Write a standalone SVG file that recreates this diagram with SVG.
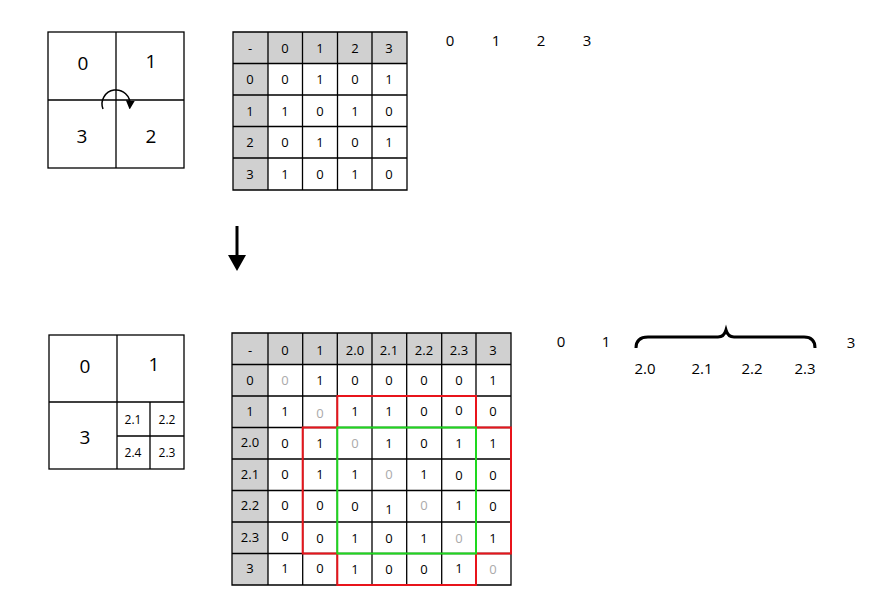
<svg xmlns="http://www.w3.org/2000/svg" width="877" height="613" viewBox="0 0 877 613">
<style>
text{font-family:"Open Sans","Liberation Sans",sans-serif;fill:#000;text-anchor:middle;dominant-baseline:central}
.t{font-size:13px}.b{font-size:19px}.s{font-size:12px}.g{fill:#aaa}
.l{stroke:#000;stroke-width:1.3;fill:none}
.h{fill:#d0d0d0}
</style>
<defs><marker id="ah" viewBox="0 0 10 10" refX="5" refY="5" markerWidth="6" markerHeight="6" orient="auto"><path d="M0,0L10,5L0,10z"/></marker></defs>
<rect width="877" height="613" fill="#fff"/>
<g id="square1">
<rect x="48" y="32" width="136" height="136" class="l"/>
<path d="M116,32V168M48,100H184" class="l"/>
<text x="83" y="63" class="b">0</text><text x="151" y="61" class="b">1</text>
<text x="82" y="136" class="b">3</text><text x="151" y="136" class="b">2</text>
</g>
<g id="connectors">
<path d="M103,109A14,14 0 1 1 130,105" fill="none" stroke="#000" stroke-width="1.5" marker-end="url(#ah)"/>
<path d="M237,226V258" stroke="#000" stroke-width="3"/>
<path d="M228,255L237,271L246,255z"/>
</g>
<g id="table1">
<rect x="233" y="32" width="174" height="31.5" class="h"/>
<rect x="233" y="32" width="35" height="158" class="h"/>
<path d="M233,32H407V190H233ZM268,32V190M302.5,32V190M337.5,32V190M372,32V190M233,63.5H407M233,95H407M233,126.5H407M233,158H407" class="l"/>
<g class="t">
<text x="250" y="48">-</text><text x="285" y="48">0</text><text x="320" y="48">1</text><text x="355" y="48">2</text><text x="389" y="48">3</text>
<text x="250" y="79">0</text><text x="285" y="79">0</text><text x="320" y="79">1</text><text x="355" y="79">0</text><text x="389" y="79">1</text>
<text x="250" y="111">1</text><text x="285" y="111">1</text><text x="320" y="111">0</text><text x="355" y="111">1</text><text x="389" y="111">0</text>
<text x="250" y="142">2</text><text x="285" y="142">0</text><text x="320" y="142">1</text><text x="355" y="142">0</text><text x="389" y="142">1</text>
<text x="250" y="174">3</text><text x="285" y="174">1</text><text x="320" y="174">0</text><text x="355" y="174">1</text><text x="389" y="174">0</text>
</g>
</g>
<g id="labels1" class="t" font-size="15">
<text x="450" y="40" style="font-size:15px">0</text><text x="496" y="40" style="font-size:15px">1</text><text x="541" y="40" style="font-size:15px">2</text><text x="587" y="40" style="font-size:15px">3</text>
</g>
<g id="square2">
<rect x="49" y="335" width="135" height="134" class="l"/>
<path d="M117,335V469M49,402H184M117,436H184M150,402V469" class="l"/>
<text x="85" y="366" class="b">0</text><text x="154" y="364" class="b">1</text>
<text x="85" y="437" class="b">3</text>
<text x="133" y="419" class="s">2.1</text><text x="167" y="419" class="s">2.2</text>
<text x="133" y="452" class="s">2.4</text><text x="167" y="452" class="s">2.3</text>
</g>
<g id="table2">
<rect x="232" y="333" width="279" height="31.5" class="h"/>
<rect x="232" y="333" width="36" height="252" class="h"/>
<path d="M232,333H511V585H232ZM268,333V585M302.7,333V585M337.3,333V585M372,333V585M406.7,333V585M441.7,333V585M476,333V585M232,364.5H511M232,396H511M232,427.5H511M232,459H511M232,490.5H511M232,522H511M232,553.5H511" class="l"/>
<path d="M337.3,396H476V427.5H511V553.5H476V585H337.3V553.5H302.7V427.5H337.3Z" fill="none" stroke="#e8141b" stroke-width="2"/>
<rect x="337.3" y="427.5" width="138.7" height="126" fill="none" stroke="#1ed81e" stroke-width="2"/>
<g class="t">
<text x="250" y="350">-</text><text x="285" y="350">0</text><text x="320" y="350">1</text><text x="355" y="350">2.0</text><text x="389" y="350">2.1</text><text x="424" y="350">2.2</text><text x="459" y="350">2.3</text><text x="493" y="350">3</text>
<text x="250" y="380">0</text><text x="285" y="380" class="g">0</text><text x="320" y="380">1</text><text x="355" y="380">0</text><text x="389" y="380">0</text><text x="424" y="380">0</text><text x="459" y="380">0</text><text x="493" y="380">1</text>
<text x="250" y="411">1</text><text x="285" y="411">1</text><text x="320" y="413" class="g">0</text><text x="355" y="411">1</text><text x="389" y="411">1</text><text x="424" y="411">0</text><text x="459" y="410">0</text><text x="493" y="411">0</text>
<text x="250" y="442">2.0</text><text x="285" y="443">0</text><text x="320" y="443">1</text><text x="355" y="443" class="g">0</text><text x="389" y="443">1</text><text x="424" y="443">0</text><text x="459" y="443">1</text><text x="493" y="443">1</text>
<text x="250" y="474">2.1</text><text x="285" y="474">0</text><text x="320" y="474">1</text><text x="355" y="474">1</text><text x="389" y="474" class="g">0</text><text x="424" y="474">1</text><text x="459" y="475">0</text><text x="493" y="475">0</text>
<text x="250" y="505">2.2</text><text x="285" y="505">0</text><text x="320" y="505">0</text><text x="355" y="506">0</text><text x="389" y="509">1</text><text x="424" y="505" class="g">0</text><text x="459" y="505">1</text><text x="493" y="506">0</text>
<text x="250" y="537">2.3</text><text x="285" y="536">0</text><text x="320" y="538">0</text><text x="355" y="538">1</text><text x="389" y="538">0</text><text x="424" y="538">1</text><text x="459" y="538" class="g">0</text><text x="493" y="538">1</text>
<text x="250" y="568">3</text><text x="285" y="568">1</text><text x="320" y="568">0</text><text x="355" y="569">1</text><text x="389" y="569">0</text><text x="424" y="569">0</text><text x="459" y="568">1</text><text x="493" y="569" class="g">0</text>
</g>
</g>
<g id="labels2">
<text x="561" y="341" style="font-size:15px">0</text><text x="606" y="341" style="font-size:15px">1</text><text x="851" y="342" style="font-size:15px">3</text>
<path d="M636,348Q636,337 648,337H718Q724,337 726,330Q728,337 734,337H804Q815,337 815,348" fill="none" stroke="#000" stroke-width="3"/>
<text x="645" y="368" style="font-size:15px">2.0</text><text x="702" y="368" style="font-size:15px">2.1</text><text x="752" y="368" style="font-size:15px">2.2</text><text x="805" y="368" style="font-size:15px">2.3</text>
</g>
</svg>
